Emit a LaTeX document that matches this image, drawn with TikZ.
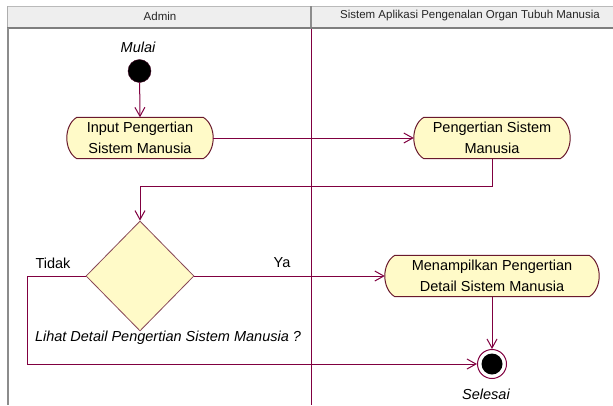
\documentclass[tikz,border=0pt]{standalone}
\usepackage{fontspec}
\setmainfont{Liberation Sans}
\usetikzlibrary{arrows.meta,backgrounds,shapes.geometric}
\definecolor{ln}{RGB}{128,0,64}
\definecolor{nodefill}{RGB}{255,250,200}
\definecolor{nodeborder}{RGB}{105,25,45}
\definecolor{hdrfill}{RGB}{238,238,238}
\definecolor{hdrline}{RGB}{140,140,140}
\tikzset{
  x=1pt,y=-1pt,
  lbl/.style={font=\fontsize{14.5}{17}\selectfont, inner sep=0pt},
  ilbl/.style={font=\fontsize{14.5}{17}\selectfont\itshape, inner sep=0pt},
  hdr/.style={font=\fontsize{11.5}{13}\selectfont, text=black!85, inner sep=0pt},
  act/.style={draw=none, inner sep=0pt, align=center, minimum height=41pt,
    font=\fontsize{14.5}{20.5}\selectfont},
  conn/.style={draw=ln, line width=1pt, -{Straight Barb[length=9pt,width=10pt,line width=1pt]}},
  decbox/.style={diamond, draw=nodeborder!80, fill=nodefill, line width=0.8pt,
    minimum width=108pt, minimum height=110pt, inner sep=0pt},
}
\newcommand\actoutline[1]{%
  \begin{pgfonlayer}{background}
  \filldraw[fill=nodefill,draw=nodeborder,line width=1pt]
    ([xshift=10pt]#1.north west) -- ([xshift=-10pt]#1.north east)
    .. controls ([xshift=3.33pt,yshift=-8pt]#1.north east) and ([xshift=3.33pt,yshift=8pt]#1.south east) .. ([xshift=-10pt]#1.south east)
    -- ([xshift=10pt]#1.south west)
    .. controls ([xshift=-3.33pt,yshift=8pt]#1.south west) and ([xshift=-3.33pt,yshift=-8pt]#1.north west) .. ([xshift=10pt]#1.north west) -- cycle;
  \end{pgfonlayer}}
\begin{document}
\begin{tikzpicture}
\useasboundingbox (0,0) rectangle (613,405);
% swimlane header and borders
\fill[hdrfill] (7,6) rectangle (613,28);
\draw[hdrline!60, line width=0.6pt] (7,6) -- (613,6);
\draw[hdrline!70, line width=0.8pt] (7,6) -- (7,28);
\draw[hdrline, line width=1.2pt] (311,6) -- (311,28);
\draw[hdrline!90!black, line width=1.6pt] (7,28) -- (613,28);
\draw[hdrline, line width=1.2pt] (8,28) -- (8,405);
\draw[ln, line width=1pt] (311,29) -- (311,405);
\node[hdr] (h1) at (160,16) {Admin};
\node[hdr] (h2) at (470,16) {Sistem Aplikasi Pengenalan Organ Tubuh Manusia};

% start
\node[ilbl] (mulai) at (138,47) {Mulai};
\node[circle, fill=black, draw=ln!50!black, minimum size=23pt, inner sep=0pt] (start) at (139.5,71) {};

% activities
\node[act, minimum width=146pt] (in) at (140,138) {Input Pengertian\\Sistem Manusia};
\actoutline{in}
\node[act, minimum width=156pt] (peng) at (492,138) {Pengertian Sistem\\Manusia};
\actoutline{peng}
\node[act, minimum width=214pt] (menam) at (492,276) {Menampilkan Pengertian\\Detail Sistem Manusia};
\actoutline{menam}

% decision
\node[decbox] (dec) at (140,276) {};
\node[ilbl] (q) at (168,338) {Lihat Detail Pengertian Sistem Manusia ?};
\node[lbl] (tidak) at (53,263) {Tidak};
\node[lbl] (ya) at (282,263) {Ya};

% end
\node[circle, draw=ln, fill=white, line width=1pt, minimum size=29pt, inner sep=0pt] (end) at (492,364) {};
\node[circle, fill=black, minimum size=21pt, inner sep=0pt] (endin) at (492,364) {};
\node[ilbl] (selesai) at (486,394) {Selesai};

% connectors
\draw[conn] (start) -- (in.north);
\draw[conn] (in.east) -- (peng.west);
\draw[conn] (peng.south) -- ++(0,27.5) -| (dec.north);
\draw[conn] (dec.east) -- (menam.west);
\draw[conn] (dec.west) -- ++(-58,0) |- (end.west);
\draw[conn] (menam.south) -- (end.north);
\end{tikzpicture}
\end{document}
